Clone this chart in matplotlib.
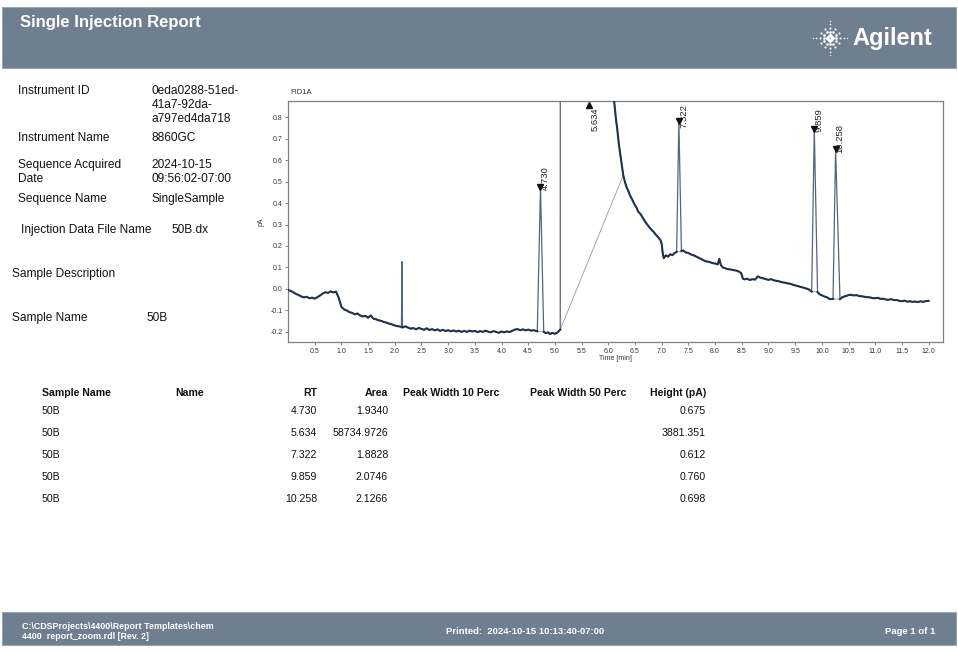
import matplotlib
matplotlib.use("Agg")
import matplotlib.pyplot as plt
from matplotlib.patches import Rectangle
import numpy as np

W, H = 958, 652
FONT = ["Liberation Sans", "DejaVu Sans"]

# ---------------- data ----------------
trace_time = [
    0.00, 0.05, 0.10, 0.15, 0.20, 0.25, 0.30, 0.35, 0.40, 0.45, 0.50, 0.55, 0.60, 0.65,
    0.70, 0.75, 0.80, 0.85, 0.90, 0.95, 1.00, 1.05, 1.10, 1.15, 1.20, 1.25, 1.30, 1.35,
    1.40, 1.45, 1.50, 1.55, 1.60, 1.65, 1.70, 1.75, 1.80, 1.85, 1.90, 1.95, 2.00, 2.05,
    2.10, 2.125, 2.145, 2.20, 2.25, 2.30, 2.35, 2.40, 2.45, 2.50, 2.55, 2.60, 2.65, 2.70,
    2.75, 2.80, 2.85, 2.90, 2.95, 3.00, 3.05, 3.10, 3.15, 3.20, 3.25, 3.30, 3.35, 3.40,
    3.45, 3.50, 3.55, 3.60, 3.65, 3.70, 3.75, 3.80, 3.85, 3.90, 3.95, 4.00, 4.05, 4.10,
    4.15, 4.20, 4.25, 4.30, 4.35, 4.40, 4.45, 4.50, 4.55, 4.60, 4.67, 4.79, 4.83, 4.87,
    4.91, 4.95, 5.00, 5.05, 5.10, 6.11, 6.14, 6.17, 6.20, 6.24, 6.28, 6.31, 6.34, 6.37,
    6.40, 6.44, 6.47, 6.50, 6.53, 6.56, 6.60, 6.65, 6.70, 6.75, 6.80, 6.85, 6.90, 6.95,
    6.98, 7.00, 7.02, 7.04, 7.08, 7.12, 7.16, 7.20, 7.24, 7.28, 7.37, 7.40, 7.45, 7.50,
    7.55, 7.60, 7.65, 7.70, 7.75, 7.80, 7.85, 7.90, 7.95, 8.00, 8.05, 8.08, 8.11, 8.15,
    8.20, 8.25, 8.30, 8.35, 8.40, 8.45, 8.49, 8.52, 8.55, 8.60, 8.65, 8.70, 8.75, 8.80,
    8.85, 8.90, 8.95, 9.00, 9.05, 9.10, 9.15, 9.20, 9.25, 9.30, 9.35, 9.40, 9.45, 9.50,
    9.55, 9.60, 9.65, 9.70, 9.75, 9.81, 9.92, 9.96, 10.00, 10.05, 10.10, 10.15, 10.21,
    10.34, 10.38, 10.42, 10.46, 10.50, 10.55, 10.60, 10.65, 10.70, 10.75, 10.80, 10.85,
    10.90, 10.95, 11.00, 11.05, 11.10, 11.15, 11.20, 11.25, 11.30, 11.35, 11.40, 11.45,
    11.50, 11.55, 11.60, 11.65, 11.70, 11.75, 11.80, 11.85, 11.90, 11.95, 12.00,
]
trace_pa = [
    -0.005, -0.010, -0.016, -0.024, -0.029, -0.036, -0.040, -0.037, -0.044, -0.041, -0.046,
    -0.039, -0.031, -0.022, -0.016, -0.019, -0.012, -0.017, -0.013, -0.042, -0.084, -0.096,
    -0.101, -0.109, -0.112, -0.119, -0.115, -0.124, -0.129, -0.126, -0.135, -0.124, -0.139,
    -0.142, -0.147, -0.150, -0.155, -0.158, -0.163, -0.166, -0.171, -0.174, -0.176, -0.178,
    -0.180, -0.175, -0.181, -0.186, -0.183, -0.189, -0.182, -0.187, -0.191, -0.184, -0.192,
    -0.188, -0.194, -0.189, -0.196, -0.191, -0.197, -0.193, -0.198, -0.194, -0.199, -0.195,
    -0.201, -0.196, -0.201, -0.195, -0.199, -0.196, -0.202, -0.197, -0.201, -0.195, -0.200,
    -0.203, -0.197, -0.201, -0.205, -0.199, -0.203, -0.198, -0.202, -0.196, -0.190, -0.188,
    -0.193, -0.189, -0.194, -0.190, -0.195, -0.193, -0.198, -0.200, -0.207, -0.203, -0.211,
    -0.205, -0.210, -0.203, -0.190, 0.875, 0.800, 0.740, 0.670, 0.600, 0.530, 0.500, 0.475,
    0.460, 0.440, 0.420, 0.405, 0.390, 0.378, 0.360, 0.350, 0.330, 0.310, 0.293, 0.278,
    0.265, 0.250, 0.236, 0.226, 0.210, 0.165, 0.143, 0.156, 0.150, 0.161, 0.157, 0.167,
    0.172, 0.176, 0.179, 0.170, 0.167, 0.160, 0.156, 0.150, 0.144, 0.138, 0.131, 0.127,
    0.125, 0.120, 0.118, 0.114, 0.140, 0.110, 0.099, 0.095, 0.091, 0.090, 0.087, 0.085,
    0.080, 0.073, 0.048, 0.044, 0.047, 0.041, 0.045, 0.043, 0.058, 0.052, 0.049, 0.045,
    0.042, 0.045, 0.040, 0.037, 0.035, 0.031, 0.029, 0.026, 0.024, 0.020, 0.016, 0.013,
    0.009, 0.006, 0.002, -0.002, -0.013, -0.015, -0.026, -0.030, -0.036, -0.040, -0.048,
    -0.047, -0.048, -0.040, -0.036, -0.033, -0.029, -0.028, -0.031, -0.029, -0.034, -0.035,
    -0.037, -0.039, -0.040, -0.043, -0.044, -0.042, -0.047, -0.046, -0.050, -0.051, -0.048,
    -0.053, -0.052, -0.056, -0.058, -0.055, -0.060, -0.058, -0.061, -0.059, -0.062, -0.058,
    -0.061, -0.057, -0.056,
]

# small unlisted spike near 2.1 min
spike_time = 2.135
spike_pa = 0.127

# integrated peaks
sample_names = ["50B", "50B", "50B", "50B", "50B"]
peak_rt = [4.730, 5.634, 7.322, 9.859, 10.258]
peak_area = [1.9340, 58734.9726, 1.8828, 2.0746, 2.1266]
peak_height = [0.675, 3881.351, 0.612, 0.760, 0.698]
peak_foot = [-0.198, -0.190, 0.172, -0.013, -0.047]

# integration baselines (start time, start pA, end time, end pA)
base_start_t = [4.67, 5.10, 7.28, 9.81, 10.21]
base_start_pa = [-0.198, -0.190, 0.172, -0.013, -0.047]
base_end_t = [4.79, 6.28, 7.37, 9.92, 10.34]
base_end_pa = [-0.200, 0.530, 0.176, -0.015, -0.048]

info_labels = ["Instrument ID", "Instrument Name", "Sequence Acquired\nDate",
               "Sequence Name"]
info_values = ["0eda0288-51ed-\n41a7-92da-\na797ed4da718", "8860GC",
               "2024-10-15\n09:56:02-07:00", "SingleSample"]
data_file = "50B.dx"
sample_name = "50B"

table_headers = ["Sample Name", "Name", "RT", "Area", "Peak Width 10 Perc",
                 "Peak Width 50 Perc", "Height (pA)"]

# ---------------- figure ----------------
fig = plt.figure(figsize=(W / 100, H / 100), dpi=100)
fig.patch.set_facecolor("white")


def fx(x):
    return x / W


def fy(y):
    return 1 - y / H


HEADER = "#6f7f8f"

# header band
fig.patches.append(Rectangle((fx(2), fy(68)), fx(954), (68 - 7) / H,
                             transform=fig.transFigure, facecolor=HEADER,
                             edgecolor="#9aa5b0", lw=0.8, zorder=-5))
fig.text(fx(20), fy(22), "Single Injection Report", family=FONT, weight="bold",
         fontsize=12, color="white", va="center", ha="left")
fig.text(fx(852), fy(38), "Agilent", family=FONT, weight="bold",
         fontsize=17, color="white", va="center", ha="left")

# spark logo
logo = fig.add_axes([fx(812), fy(56), 36 / W, 36 / H])
logo.set_xlim(-1, 1)
logo.set_ylim(-1, 1)
logo.axis("off")
logo.patch.set_alpha(0)
for k in range(12):
    ang = np.pi / 2 + k * np.pi / 6
    for r, s in [(0.16, 5.0), (0.36, 3.5), (0.56, 2.2), (0.76, 1.4), (0.95, 0.9)]:
        if k % 3 != 0 and r > 0.6:
            continue
        logo.scatter(r * np.cos(ang), r * np.sin(ang), s=s, color="white", lw=0)

# footer band
fig.patches.append(Rectangle((fx(2), fy(645)), fx(954), (645 - 612) / H,
                             transform=fig.transFigure, facecolor=HEADER,
                             edgecolor="#9aa5b0", lw=0.8, zorder=-5))
fig.text(fx(22), fy(631.5), "C:\\CDSProjects\\4400\\Report Templates\\chem\n4400  report_zoom.rdl [Rev. 2]",
         family=FONT, weight="bold", fontsize=6.4, color="white", va="center",
         ha="left", linespacing=1.15)
fig.text(fx(525), fy(632), "Printed:  2024-10-15 10:13:40-07:00", family=FONT,
         weight="bold", fontsize=6.8, color="white", va="center", ha="center")
fig.text(fx(935), fy(632), "Page 1 of 1", family=FONT, weight="bold",
         fontsize=6.8, color="white", va="center", ha="right")

# info panel
TXT = "#111111"
FS = 8.6
info_y = [90, 137, 163.7, 197.7]
for lab, val, y in zip(info_labels, info_values, info_y):
    fig.text(fx(18), fy(y - 5.0), lab, family=FONT, fontsize=FS, color=TXT,
             va="top", ha="left", linespacing=1.2)
    fig.text(fx(151.5), fy(y - 5.0), val, family=FONT, fontsize=FS, color=TXT,
             va="top", ha="left", linespacing=1.2)
fig.text(fx(21), fy(230.3), "Injection Data File Name", family=FONT, fontsize=FS,
         color=TXT, va="center", ha="left")
fig.text(fx(171), fy(230.3), data_file, family=FONT, fontsize=FS, color=TXT,
         va="center", ha="left")
fig.text(fx(12), fy(274.3), "Sample Description", family=FONT, fontsize=FS,
         color=TXT, va="center", ha="left")
fig.text(fx(12), fy(318.3), "Sample Name", family=FONT, fontsize=FS, color=TXT,
         va="center", ha="left")
fig.text(fx(146.5), fy(318.3), sample_name, family=FONT, fontsize=FS, color=TXT,
         va="center", ha="left")

# results table
col_x = [42, 175, 317, 388, 403, 530, 706]
col_ha = ["left", "left", "right", "right", "left", "left", "right"]
for h, x, ha in zip(table_headers, col_x, col_ha):
    fig.text(fx(x), fy(393), h, family=FONT, weight="bold", fontsize=7.6,
             color=TXT, va="center", ha=ha)
for i in range(len(peak_rt)):
    y = 411 + 22 * i
    fig.text(fx(42), fy(y), sample_names[i], family=FONT, fontsize=7.6,
             color=TXT, va="center", ha="left")
    fig.text(fx(317), fy(y), f"{peak_rt[i]:.3f}", family=FONT, fontsize=7.6,
             color=TXT, va="center", ha="right")
    fig.text(fx(388), fy(y), f"{peak_area[i]:.4f}", family=FONT, fontsize=7.6,
             color=TXT, va="center", ha="right")
    fig.text(fx(706), fy(y), f"{peak_height[i]:.3f}", family=FONT, fontsize=7.6,
             color=TXT, va="center", ha="right")

# ---------------- chromatogram ----------------
ax = fig.add_axes([fx(288), fy(342), fx(943) - fx(288), (342 - 101) / H])
XMIN, XMAX = 0.0, 12.27
YMIN, YMAX = -0.248, 0.876
ax.set_xlim(XMIN, XMAX)
ax.set_ylim(YMIN, YMAX)

apex_pa = [f + h for f, h in zip(peak_foot, peak_height)]
t_all = np.array(trace_time + peak_rt + [spike_time])
y_all = np.array(trace_pa + apex_pa + [spike_pa])
order = np.argsort(t_all)
t_all, y_all = t_all[order], y_all[order]

apex_times = set(peak_rt + [spike_time])
y_noise = np.array([np.nan if t in apex_times else v for t, v in zip(t_all, y_all)])

PEAK_C = "#56667a"
TRACE_C = "#22334a"
ax.plot(t_all, y_all, color=PEAK_C, lw=0.9, zorder=3)
ax.plot(t_all, y_noise, color=TRACE_C, lw=1.5, zorder=4)

for t0, y0, t1, y1 in zip(base_start_t, base_start_pa, base_end_t, base_end_pa):
    ax.plot([t0, t1], [y0, y1], color="#9099a3", lw=0.6, zorder=2)

# peak markers and retention-time labels
fig.canvas.draw()
renderer = fig.canvas.get_renderer()
ax_top_px = ax.get_window_extent().y1
LBL_FS = 6.8
for rt, ap in zip(peak_rt, apex_pa):
    label = f"{rt:.3f}"
    if ap > YMAX:
        ym = YMAX - 0.018
        ax.plot(rt, ym, marker="^", ms=5, color="#111111", zorder=6, clip_on=False)
        ax.annotate(label, (rt, ym), xytext=(4.5, -1.5), textcoords="offset points",
                    rotation=90, ha="center", va="top", fontsize=LBL_FS, family=FONT,
                    color="#222222", zorder=6)
    else:
        ax.plot(rt, ap, marker="v", ms=5, color="#111111", zorder=6)
        t = ax.annotate(label, (rt, ap), xytext=(3.2, -2.5), textcoords="offset points",
                        rotation=90, ha="center", va="bottom", fontsize=LBL_FS,
                        family=FONT, color="#222222", zorder=7)
        bb = t.get_window_extent(renderer)
        over = bb.y1 - (ax_top_px - 2.5)
        if over > 0:
            t.set_position((4.0, -2.5 - over * 72 / 100))

SPINE_C = "#808080"
for s in ax.spines.values():
    s.set_color(SPINE_C)
    s.set_linewidth(0.9)

xt = [0.5 * k for k in range(1, 25)]
ax.set_xticks(xt)
ax.set_xticklabels([f"{v:.1f}" for v in xt])
yt = [-0.2, -0.1, 0.0, 0.1, 0.2, 0.3, 0.4, 0.5, 0.6, 0.7, 0.8]
ax.set_yticks(yt)
ax.set_yticklabels([f"{v:.1f}" for v in yt])
ax.tick_params(axis="both", direction="out", length=2.5, width=0.7, color=SPINE_C,
               labelsize=5, labelcolor="#333333", pad=1.5)
for lbl in ax.get_xticklabels() + ax.get_yticklabels():
    lbl.set_family(FONT)
ax.set_xlabel("Time [min]", family=FONT, fontsize=5, color="#333333", labelpad=0.5)
ax.set_ylabel("pA", family=FONT, fontsize=5, color="#333333", labelpad=4)
fig.text(fx(290), fy(93), "FID1A", family=FONT, fontsize=5.5, color="#333333",
         va="center", ha="left")

fig.savefig("out.png", dpi=100)
